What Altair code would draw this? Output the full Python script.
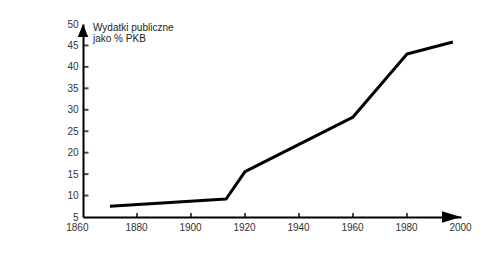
import altair as alt
import pandas as pd

years = [1870, 1913, 1920, 1960, 1980, 1997]
values = [7.5, 9.2, 15.6, 28.3, 43.0, 45.8]
x_ticks = [1860, 1880, 1900, 1920, 1940, 1960, 1980, 2000]
x_inner_ticks = [1880, 1900, 1920, 1940, 1960, 1980]
y_ticks = [5, 10, 15, 20, 25, 30, 35, 40, 45, 50]
y_inner_ticks = [10, 15, 20, 25, 30, 35, 40, 45]
label_lines = ["Wydatki publiczne", "jako % PKB"]

W, H = 378, 193
df = pd.DataFrame({"rok": years, "wartosc": values})

xs = alt.Scale(domain=[1860, 2000], nice=False, zero=False)
ys = alt.Scale(domain=[5, 50], nice=False, zero=False)

x_axis = alt.Axis(values=x_ticks, format="d", title=None, grid=False, ticks=False,
                  domain=True, domainColor="black", domainWidth=2,
                  labelFont="Liberation Sans", labelFontSize=10, labelColor="#333",
                  labelPadding=5, labelFlush=False, labelOverlap=False,
                  labelAlign={"expr": "datum.value == 1860 ? 'right' : 'center'"},
                  labelOffset={"expr": "datum.value == 1860 ? 5 : -1"})
y_axis = alt.Axis(values=y_ticks, format="d", title=None, grid=False, ticks=False,
                  domain=True, domainColor="black", domainWidth=2,
                  labelFont="Liberation Sans", labelFontSize=10, labelColor="#333",
                  labelPadding=5, labelFlush=False, labelOverlap=False)

line = alt.Chart(df).mark_line(color="black", strokeWidth=3, strokeJoin="round").encode(
    x=alt.X("rok:Q", scale=xs, axis=x_axis),
    y=alt.Y("wartosc:Q", scale=ys, axis=y_axis),
)

yt = alt.Chart(pd.DataFrame({"v": y_inner_ticks})).mark_tick(
    color="black", size=5, thickness=2
).encode(y=alt.Y("v:Q", scale=ys, axis=y_axis), x=alt.value(3))

xt = alt.Chart(pd.DataFrame({"v": x_inner_ticks})).mark_tick(
    color="black", size=4, thickness=2
).encode(x=alt.X("v:Q", scale=xs, axis=x_axis), y=alt.value(H - 2))

up_arrow = alt.Chart(pd.DataFrame({"a": [0]})).mark_point(
    shape="M0,-1L0.8,1L-0.8,1Z", filled=True, color="black", opacity=1, size=169
).encode(x=alt.datum(1860, scale=xs, axis=x_axis), y=alt.datum(50, scale=ys, axis=y_axis),
         yOffset=alt.value(6.5))

right_arrow = alt.Chart(pd.DataFrame({"a": [0]})).mark_point(
    shape="M1,0L-1,-0.6L-1,0.6Z", filled=True, color="black", opacity=1, size=361
).encode(x=alt.datum(2000, scale=xs, axis=x_axis), y=alt.datum(5, scale=ys, axis=y_axis),
         xOffset=alt.value(-9.5))

label = alt.Chart(pd.DataFrame({"t": [label_lines]})).mark_text(
    align="left", baseline="top", font="Liberation Sans", fontSize=10,
    color="#222", lineHeight=11, dx=10, dy=-1
).encode(x=alt.datum(1860, scale=xs, axis=x_axis), y=alt.datum(50, scale=ys, axis=y_axis),
         text="t")

chart = alt.layer(line, yt, xt, up_arrow, right_arrow, label).properties(
    width=W, height=H,
    autosize=alt.AutoSizeParams(type="none"),
    padding={"left": 83, "top": 24, "right": 39, "bottom": 59},
    background="white",
).configure_view(stroke=None)

chart.save("out.html", embed_options={"renderer": "svg", "actions": False})
